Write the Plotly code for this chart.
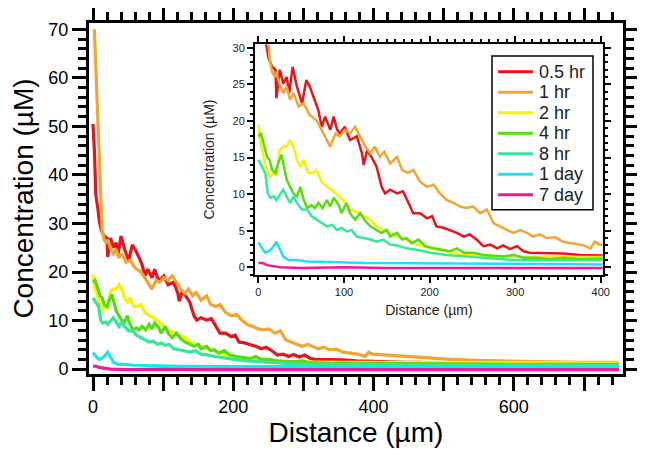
import plotly.graph_objects as go

# distance (um) / concentration (uM)
x_05hr = [0, 2, 4, 5, 7, 9, 12, 16, 20, 21, 25, 29, 33, 36, 40, 45, 51, 56, 60, 66,
          70, 74, 78, 84, 88, 92, 95, 101, 107, 115, 121, 123, 127, 132, 138, 144, 148, 154, 162, 169,
          175, 181, 189, 197, 203, 208, 216, 224, 232, 240, 247, 255, 263, 271, 279, 286, 294, 302, 310, 317,
          329, 341, 356, 376, 395, 420, 445, 470]
c_05hr = [50.5, 45, 36, 34.5, 33, 30.5, 28.5, 27.4, 27, 23.1, 27, 25.1, 26, 23.8, 27.4, 24.7, 22.4, 25.6, 24.7, 22.9,
          21.5, 19.2, 20.6, 18.8, 20.6, 18.8, 18.3, 19.2, 17.4, 17.9, 15.6, 14, 16, 15.1, 13.8, 11, 10.1, 10.6, 10.1, 10.4,
          8.8, 7.4, 7.4, 6.7, 7.0, 5.6, 5.4, 5.1, 4.7, 4.2, 4.5, 3.8, 2.9, 3.1, 2.6, 3.0, 2.5, 2.9, 2.2, 2.0,
          2.0, 2.0, 1.9, 1.7, 1.6, 1.5, 1.4, 1.4]

x_1hr = [2, 5, 8, 11, 13, 16, 19, 21, 25, 29, 33, 37, 41, 47, 53, 60, 68, 74, 80, 84,
         90, 95, 101, 107, 113, 119, 125, 131, 136, 142, 147, 154, 162, 168, 175, 181, 189, 197, 205, 212,
         220, 228, 236, 243, 251, 259, 267, 275, 282, 290, 298, 306, 314, 321, 329, 337, 347, 356, 368, 380,
         388, 393, 399, 420, 450, 480, 510, 550, 600, 650, 700, 750]
c_1hr = [70, 58, 45, 32, 28.5, 26.7, 26, 26.7, 24.9, 23.8, 24.7, 22.9, 23.8, 22, 22.4, 20.8, 20.1, 18.8, 17.4, 16.5,
         18.3, 17.9, 18.8, 18.3, 19.2, 17.9, 16.5, 15.6, 16.5, 15.1, 15.8, 14.2, 15.1, 13.3, 12.9, 13.3, 11.7, 11, 11.3, 10.1,
         9.2, 8.8, 8.3, 8.1, 8.3, 7.4, 7.9, 6.0, 5.6, 5.1, 4.7, 5.1, 4.7, 4.2, 4.5, 4.0, 4.1, 3.5, 3.3, 3.0,
         2.6, 3.5, 3.1, 2.9, 2.5, 2.2, 2.0, 1.8, 1.6, 1.5, 1.4, 1.4]

x_2hr = [0, 2, 6, 10, 14, 18, 21, 25, 29, 33, 37, 41, 45, 49, 53, 58, 64, 68, 74, 80,
         86, 92, 99, 107, 115, 123, 131, 138, 146, 154, 162, 173, 185, 201, 220, 240, 278, 317, 356, 400,
         450, 500, 600, 700, 750]
c_2hr = [19.5, 17.4, 15.1, 13.3, 12.4, 12.9, 12.6, 16.0, 16.5, 16.5, 17.4, 16.5, 14.7, 13.8, 14.7, 12.9, 12.9, 13.3, 11.7, 11,
         10.6, 9.9, 9.2, 7.9, 7.6, 7.0, 6.5, 5.6, 5.1, 4.7, 4.2, 3.8, 3.1, 2.6, 2.2, 1.7, 1.5, 1.4, 1.4, 1.4,
         1.4, 1.4, 1.3, 1.3, 1.3]

x_4hr = [0, 3, 6, 10, 13, 16, 20, 23, 27, 30, 33, 37, 41, 45, 49, 53, 57, 62, 66, 70,
         75, 80, 84, 88, 94, 97, 103, 107, 113, 119, 125, 131, 138, 144, 150, 154, 162, 168, 173, 179,
         187, 195, 205, 216, 224, 232, 240, 251, 263, 275, 286, 298, 310, 325, 341, 356, 376, 400, 450, 500,
         600, 700, 750]
c_4hr = [17.9, 18.3, 17, 15.1, 14.7, 13.3, 12.9, 14.2, 15.4, 13.8, 12, 11, 10.1, 9.7, 11, 9.2, 8.1, 8.5, 8.1, 8.8,
         8.1, 9.2, 8.3, 9.5, 8.5, 7.4, 8.8, 7.4, 6.5, 7.4, 6.3, 5.6, 5.1, 4.7, 5.1, 4.2, 4.7, 3.8, 4.0, 3.3,
         3.8, 2.9, 2.6, 2.4, 2.2, 2.6, 2.0, 2.0, 1.7, 1.6, 1.5, 1.7, 1.3, 1.3, 1.1, 1.3, 1.1, 1.2, 1.1, 1.1,
         1.0, 1.0, 1.0]

x_8hr = [0, 4, 8, 11, 14, 18, 21, 25, 29, 33, 37, 41, 45, 51, 57, 62, 68, 74, 80, 86,
         92, 97, 103, 109, 115, 123, 131, 138, 146, 154, 162, 173, 185, 201, 220, 240, 263, 298, 337, 400,
         450, 500, 600, 700, 750]
c_8hr = [14.7, 13.8, 12.9, 10.1, 9.5, 9.7, 9.2, 9.9, 10.6, 9.7, 8.8, 9.7, 8.8, 7.9, 7.9, 7.0, 6.5, 6.0, 5.6, 5.8,
         5.1, 5.4, 4.9, 5.1, 4.2, 4.0, 3.8, 3.5, 3.8, 3.1, 3.0, 2.6, 2.4, 2.0, 1.7, 1.5, 1.3, 1.0, 1.0, 0.9,
         0.9, 0.8, 0.8, 0.8, 0.8]

x_1day = [0, 4, 8, 12, 16, 21, 25, 29, 35, 45, 57, 72, 95, 123, 162, 201, 280, 400, 500, 600, 750]
c_1day = [3.4, 2.6, 2.0, 2.2, 2.6, 3.5, 2.6, 1.5, 1.0, 1.0, 0.8, 0.8, 0.7, 0.6, 0.6, 0.5, 0.5, 0.4, 0.4, 0.4, 0.4]

x_7day = [0, 5, 10, 15, 25, 50, 100, 150, 200, 300, 400, 500, 600, 750]
c_7day = [0.6, 0.6, 0.3, 0.2, 0.0, -0.1, 0.0, -0.1, -0.1, -0.1, -0.1, -0.1, -0.1, -0.1]

labels = ["0.5 hr", "1 hr", "2 hr", "4 hr", "8 hr", "1 day", "7 day"]
colors = ["#e8141c", "#f2a533", "#f7f200", "#55dd10", "#33e89a", "#22e0f0", "#ee1a96"]
xs = [x_05hr, x_1hr, x_2hr, x_4hr, x_8hr, x_1day, x_7day]
cs = [c_05hr, c_1hr, c_2hr, c_4hr, c_8hr, c_1day, c_7day]

FONT = "Liberation Sans, Arial, sans-serif"

fig = go.Figure()

# main plot
for lab, col, x, c in zip(labels, colors, xs, cs):
    fig.add_trace(go.Scatter(x=x, y=c, mode="lines", line=dict(color=col, width=3.2),
                             name=lab, showlegend=False, xaxis="x", yaxis="y"))

# inset (same data, zoomed)
for lab, col, x, c in zip(labels, colors, xs, cs):
    fig.add_trace(go.Scatter(x=x, y=c, mode="lines", line=dict(color=col, width=2.5),
                             name=lab, showlegend=False, xaxis="x2", yaxis="y2"))

main_ax = dict(showline=True, linecolor="black", linewidth=3, mirror="allticks",
               ticks="outside", ticklen=14, tickwidth=2.5, tickcolor="black", automargin=False,
               showgrid=False, zeroline=False, tickfont=dict(size=18, color="black"))
inset_ax = dict(showline=True, linecolor="black", linewidth=2, mirror="allticks",
                ticks="outside", ticklen=6, tickwidth=1.5, tickcolor="black", automargin=False,
                showgrid=False, zeroline=False, tickfont=dict(size=11, color="#222"))

# legend drawn by hand inside the inset: plotly's own rows are too tall for this spacing
shapes = [dict(type="rect", xref="paper", yref="paper", x0=0.7547, x1=0.9438, y0=0.4677, y1=0.906,
               fillcolor="white", line=dict(color="black", width=1.5), layer="above")]
annotations = []
for i, (lab, col) in enumerate(zip(labels, colors)):
    yy = 0.8610 - i * 0.0584
    shapes.append(dict(type="line", xref="paper", yref="paper", x0=0.766, x1=0.8315, y0=yy, y1=yy,
                       line=dict(color=col, width=3), layer="above"))
    annotations.append(dict(xref="paper", yref="paper", x=0.8385, y=yy, xanchor="left", yanchor="middle",
                            text=lab, showarrow=False, font=dict(size=18, color="#222")))

# the page body adds an 8px offset, so margins are shifted to keep the frame in place
fig.update_layout(
    width=645, height=453,
    margin=dict(l=81, r=30, t=15, b=87),
    plot_bgcolor="white", paper_bgcolor="white",
    font=dict(family=FONT, color="black"),
    showlegend=False,
    xaxis=dict(main_ax, domain=[0, 1], range=[-5.7, 755.6],
               tickvals=[0, 100, 200, 300, 400, 500, 600, 700],
               ticktext=["0", "", "200", "", "400", "", "600", ""],
               minor=dict(dtick=20, ticklen=8, tickwidth=2.5, ticks="outside", tickcolor="black"),
               title=dict(text="Distance (\u00b5m)", font=dict(size=28), standoff=5)),
    yaxis=dict(main_ax, domain=[0, 1], range=[-1.0, 71.3], dtick=10,
               minor=dict(dtick=2, ticklen=8, tickwidth=2.5, ticks="outside", tickcolor="black"),
               title=dict(text="Concentration (\u00b5M)", font=dict(size=28), standoff=9)),
    xaxis2=dict(inset_ax, domain=[0.311, 0.962], anchor="y2", range=[-3.9, 402.3], dtick=100,
                minor=dict(dtick=10, ticklen=3.5, tickwidth=1.5, ticks="outside", tickcolor="black"),
                title=dict(text="Distance (\u00b5m)", font=dict(size=14, color="#222"), standoff=8)),
    yaxis2=dict(inset_ax, domain=[0.283, 0.939], anchor="x2", range=[-1.0, 30.46], dtick=5,
                minor=dict(dtick=1, ticklen=3.5, tickwidth=1.5, ticks="outside", tickcolor="black"),
                title=dict(text="Concentration (\u00b5M)", font=dict(size=14, color="#222"), standoff=15)),
    shapes=shapes,
    annotations=annotations,
)

fig.write_html("out.html")
